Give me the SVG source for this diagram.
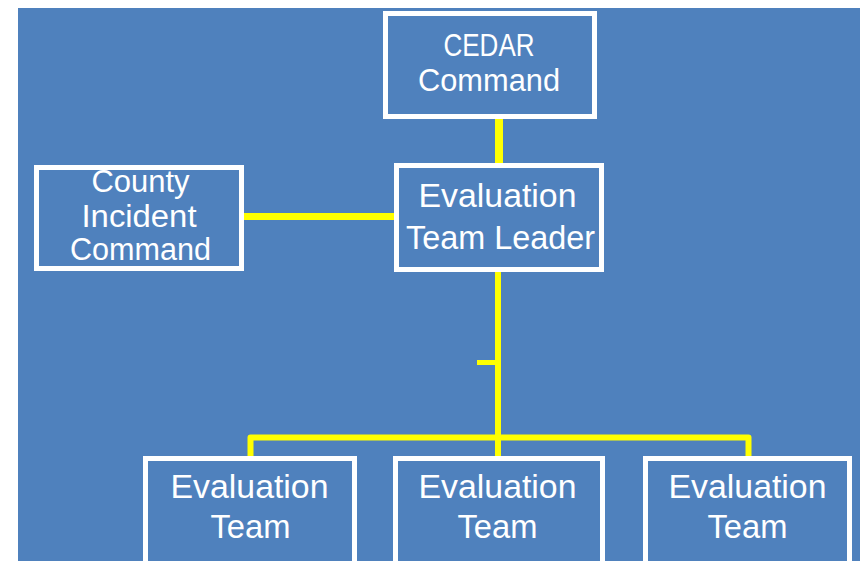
<svg xmlns="http://www.w3.org/2000/svg" width="860" height="561" viewBox="0 0 860 561">
<style>
.box{fill:#4F81BD;stroke:#FFFFFF;stroke-width:5}
.t{font-family:"Liberation Sans",Arial,sans-serif;fill:#FFFFFF;text-anchor:middle}
.s{font-size:31px}
.l{font-size:33px}
.c{stroke:#FFFF00;fill:none}
</style>
<rect x="0" y="0" width="860" height="561" fill="#FFFFFF"/>
<rect x="18" y="8" width="842" height="553" fill="#4F81BD"/>
<g id="connectors">
<line class="c" x1="499" y1="118" x2="499" y2="165" stroke-width="8"/>
<line class="c" x1="243" y1="216.5" x2="395" y2="216.5" stroke-width="7"/>
<line class="c" x1="498" y1="271" x2="498" y2="457" stroke-width="6"/>
<line class="c" x1="477" y1="362.5" x2="498" y2="362.5" stroke-width="5"/>
<path class="c" d="M250.5,457 V437.5 H748.5 V457" stroke-width="6" stroke-linejoin="round"/>
</g>
<g id="cedar">
<rect class="box" x="385.5" y="13.5" width="209" height="103"/>
<text class="t s" x="489" y="56" textLength="91" lengthAdjust="spacingAndGlyphs">CEDAR</text>
<text class="t s" x="489" y="91" textLength="142" lengthAdjust="spacingAndGlyphs">Command</text>
</g>
<g id="county">
<rect class="box" x="36.5" y="167.5" width="205" height="101"/>
<text class="t s" x="140.5" y="192" textLength="98" lengthAdjust="spacingAndGlyphs">County</text>
<text class="t s" x="139" y="227" textLength="115" lengthAdjust="spacingAndGlyphs">Incident</text>
<text class="t s" x="140.5" y="260" textLength="141" lengthAdjust="spacingAndGlyphs">Command</text>
</g>
<g id="leader">
<rect class="box" x="396.5" y="165.5" width="205" height="104"/>
<text class="t l" x="497.5" y="207" textLength="158" lengthAdjust="spacingAndGlyphs">Evaluation</text>
<text class="t l" x="500.5" y="249" textLength="189" lengthAdjust="spacingAndGlyphs">Team Leader</text>
</g>
<g id="team1">
<rect class="box" x="145.5" y="458.5" width="209" height="110"/>
<text class="t l" x="249.5" y="498" textLength="158" lengthAdjust="spacingAndGlyphs">Evaluation</text>
<text class="t l" x="250.5" y="538" textLength="80" lengthAdjust="spacingAndGlyphs">Team</text>
</g>
<g id="team2">
<rect class="box" x="395.5" y="458.5" width="207" height="110"/>
<text class="t l" x="497.5" y="498" textLength="158" lengthAdjust="spacingAndGlyphs">Evaluation</text>
<text class="t l" x="497.5" y="538" textLength="80" lengthAdjust="spacingAndGlyphs">Team</text>
</g>
<g id="team3">
<rect class="box" x="645.5" y="458.5" width="204" height="110"/>
<text class="t l" x="747.5" y="498" textLength="158" lengthAdjust="spacingAndGlyphs">Evaluation</text>
<text class="t l" x="747.5" y="538" textLength="80" lengthAdjust="spacingAndGlyphs">Team</text>
</g>
</svg>
